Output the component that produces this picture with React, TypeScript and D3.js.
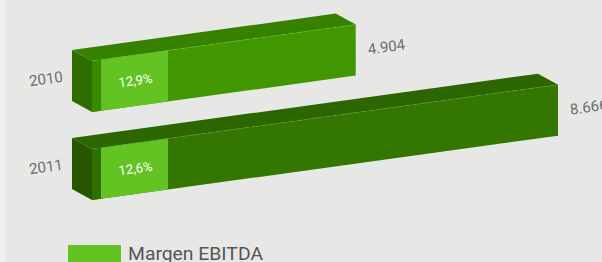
import React from "react";
import * as d3 from "d3";

const years = ["2010", "2011"];
const values = [4904, 8666];
const valueLabels = ["4.904", "8.666"];
const margins = ["12,9%", "12,6%"];
const legendLabel = "Margen EBITDA";

const W = 602;
const H = 262;
const SLOPE = 0.138;
const DEPTH_X = 20;
const DEPTH_Y = 11;
const FACE_H = 51;
const ANGLE = (-Math.atan(SLOPE) * 180) / Math.PI;

const palettes = [
  { front: "#409700", top: "#378100", left: "#2f6d00", strip: "#3a8a00", hl: "#6cbf2e" },
  { front: "#347700", top: "#2b6600", left: "#265600", strip: "#2f6f00", hl: "#5a9e2a" },
];
const LIGHT = "#62c322";

export default function App() {
  const x = d3.scaleLinear().domain([0, 8666]).range([92, 558]);
  const y = d3.scalePoint<string>().domain(years).range([61, 149]);
  const x0 = x(0);
  const yAt = (yt: number, xx: number) => yt - (xx - x0) * SLOPE;
  const pts = (p: [number, number][]) => p.map((q) => q.join(",")).join(" ");

  const boxX0 = 101;
  const boxX1 = 168;

  return (
    <svg width={W} height={H} style={{ position: "absolute", left: 0, top: 0 }}>
      <rect x={0} y={0} width={W} height={H} fill="#e7e8e6" />
      <rect x={0} y={0} width={5} height={H} fill="#eef0ee" />
      {years.map((yr, i) => {
        const yt = y(yr)!;
        const xe = x(values[i]);
        const yte = yAt(yt, xe);
        const c = palettes[i];
        const front: [number, number][] = [
          [x0, yt],
          [xe, yte],
          [xe, yte + FACE_H],
          [x0, yt + FACE_H],
        ];
        const top: [number, number][] = [
          [x0 - DEPTH_X, yt - DEPTH_Y],
          [xe - DEPTH_X, yte - DEPTH_Y],
          [xe, yte],
          [x0, yt],
        ];
        const left: [number, number][] = [
          [x0 - DEPTH_X, yt - DEPTH_Y],
          [x0, yt],
          [x0, yt + FACE_H],
          [x0 - DEPTH_X, yt + FACE_H - DEPTH_Y],
        ];
        const strip: [number, number][] = [
          [x0, yt],
          [boxX0, yAt(yt, boxX0)],
          [boxX0, yAt(yt, boxX0) + FACE_H],
          [x0, yt + FACE_H],
        ];
        const box: [number, number][] = [
          [boxX0, yAt(yt, boxX0)],
          [boxX1, yAt(yt, boxX1)],
          [boxX1, yAt(yt, boxX1) + FACE_H],
          [boxX0, yAt(yt, boxX0) + FACE_H],
        ];
        const bcx = (boxX0 + boxX1) / 2 + 1;
        const bcy = yAt(yt, bcx) + FACE_H / 2;
        const lx = 46;
        const ly = yt + 18;
        const vx = xe + 12;
        const vy = yte + 25;
        return (
          <g key={yr}>
            <polygon points={pts(top)} fill={c.top} />
            <polygon points={pts(left)} fill={c.left} />
            <polygon points={pts(front)} fill={c.front} />
            <polygon points={pts(strip)} fill={c.strip} />
            <polygon points={pts(box)} fill={LIGHT} />
            <line
              x1={x0}
              y1={yt}
              x2={xe}
              y2={yte}
              stroke={c.hl}
              strokeWidth={0.8}
              strokeDasharray="6 3"
              opacity={0.7}
            />
            <text
              x={lx}
              y={ly}
              transform={`rotate(${ANGLE} ${lx} ${ly})`}
              textAnchor="middle"
              dominantBaseline="central"
              fontFamily="Roboto, sans-serif"
              fontSize={15}
              fill="#6e6e6e"
            >
              {yr}
            </text>
            <text
              x={bcx}
              y={bcy}
              transform={`rotate(${ANGLE} ${bcx} ${bcy})`}
              textAnchor="middle"
              dominantBaseline="central"
              fontFamily="Roboto, sans-serif"
              fontSize={13}
              fill="#ffffff"
            >
              {margins[i]}
            </text>
            <text
              x={vx}
              y={vy}
              transform={`rotate(${ANGLE} ${vx} ${vy})`}
              dominantBaseline="central"
              fontFamily="Roboto, sans-serif"
              fontSize={15}
              fill="#6e6e6e"
            >
              {valueLabels[i]}
            </text>
          </g>
        );
      })}
      <rect x={68} y={245} width={53} height={20} fill={LIGHT} />
      <text
        x={128}
        y={260}
        fontFamily="Roboto, sans-serif"
        fontSize={19}
        fill="#555555"
        textLength={135}
        lengthAdjust="spacingAndGlyphs"
      >
        {legendLabel}
      </text>
    </svg>
  );
}
